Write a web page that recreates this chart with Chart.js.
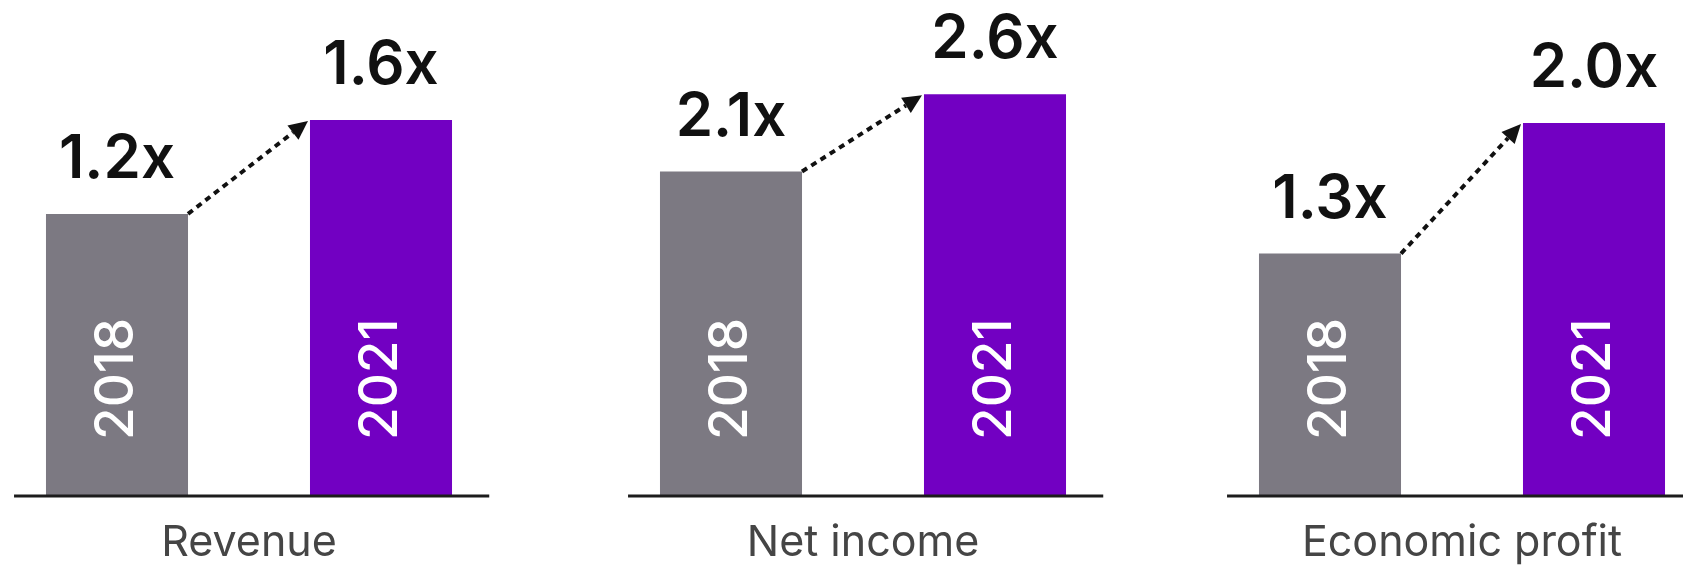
<!DOCTYPE html>
<html>
<head>
<meta charset="utf-8">
<script src="https://cdn.jsdelivr.net/npm/chart.js@4.4.1/dist/chart.umd.min.js"></script>
<style>
  html, body { margin: 0; padding: 0; background: #fff; }
  body { width: 1683px; height: 569px; position: relative; overflow: hidden; }
  .panel { position: absolute; top: 0; width: 528px; height: 569px; }
</style>
</head>
<body>
<div class="panel" style="left:-15px"><canvas id="c0"></canvas></div>
<div class="panel" style="left:599px"><canvas id="c1"></canvas></div>
<div class="panel" style="left:1198px"><canvas id="c2"></canvas></div>

<script>
'use strict';

// multiples vs. peers, per metric
const panels     = ['Revenue', 'Net income', 'Economic profit'];
const years      = ['2018', '2021'];
const values2018 = [1.2, 2.1, 1.3];
const values2021 = [1.6, 2.6, 2.0];
// each panel has its own vertical scale
const yMax       = [2.11, 3.21, 2.66];

const GREY   = '#7c7982';
const PURPLE = '#7200c2';
const FONT   = 'Inter, Roboto, sans-serif';

const decor = {
  id: 'decor',
  afterDatasetsDraw(chart) {
    const { ctx, scales: { x, y } } = chart;
    const bars = chart.getDatasetMeta(0).data;
    const base = y.getPixelForValue(0);
    const vals = chart.data.datasets[0].data;

    ctx.save();

    // baseline
    ctx.strokeStyle = '#1c1c1c';
    ctx.lineWidth = 3;
    ctx.beginPath();
    ctx.moveTo(x.getPixelForValue(-0.39), base);
    ctx.lineTo(x.getPixelForValue(1.41), base);
    ctx.stroke();

    // dotted arrow from first bar corner to second
    const a = bars[0], b = bars[1];
    const x0 = a.x + a.width / 2, y0 = a.y;
    const x1 = b.x - b.width / 2 - 2, y1 = b.y + 1;
    const ang = Math.atan2(y1 - y0, x1 - x0);
    const head = 19, half = 9;
    const cos = Math.cos(ang), sin = Math.sin(ang);
    ctx.strokeStyle = '#111';
    ctx.lineWidth = 4;
    ctx.setLineDash([6, 5]);
    ctx.beginPath();
    ctx.moveTo(x0, y0);
    ctx.lineTo(x1 - head * cos, y1 - head * sin);
    ctx.stroke();
    ctx.setLineDash([]);
    ctx.fillStyle = '#111';
    ctx.beginPath();
    ctx.moveTo(x1, y1);
    ctx.lineTo(x1 - head * cos - half * sin, y1 - head * sin + half * cos);
    ctx.lineTo(x1 - head * cos + half * sin, y1 - head * sin - half * cos);
    ctx.closePath();
    ctx.fill();

    bars.forEach((bar, i) => {
      // multiple above the bar
      ctx.fillStyle = '#111';
      ctx.font = '600 60px ' + FONT;
      ctx.textAlign = 'center';
      ctx.textBaseline = 'alphabetic';
      ctx.fillText(vals[i].toFixed(1) + 'x', bar.x, bar.y - 36);

      // year, rotated, inside the bar
      ctx.save();
      ctx.translate(bar.x, base - 56);
      ctx.rotate(-Math.PI / 2);
      ctx.fillStyle = '#ffffff';
      ctx.font = '500 53px ' + FONT;
      ctx.textAlign = 'left';
      ctx.textBaseline = 'middle';
      ctx.fillText(chart.data.labels[i], 0, 0);
      ctx.restore();
    });

    ctx.restore();
  }
};

panels.forEach((name, i) => {
  new Chart(document.getElementById('c' + i), {
    type: 'bar',
    data: {
      labels: years,
      datasets: [{
        data: [values2018[i], values2021[i]],
        backgroundColor: [GREY, PURPLE],
        borderWidth: 0,
        categoryPercentage: 1,
        barPercentage: 0.538,
      }],
    },
    options: {
      responsive: true,
      maintainAspectRatio: false,
      animation: false,
      layout: { padding: 0 },
      plugins: { legend: { display: false }, tooltip: { enabled: false } },
      scales: {
        x: {
          grid: { display: false, drawTicks: false },
          border: { display: false },
          ticks: { display: false },
          title: {
            display: true,
            text: name,
            color: '#454545',
            font: { family: FONT, size: 43, weight: '400', lineHeight: 1.2 },
            padding: { top: 21.4, bottom: 0 },
          },
        },
        y: { display: false, min: 0, max: yMax[i] },
      },
    },
    plugins: [decor],
  });
});
</script>
</body>
</html>
